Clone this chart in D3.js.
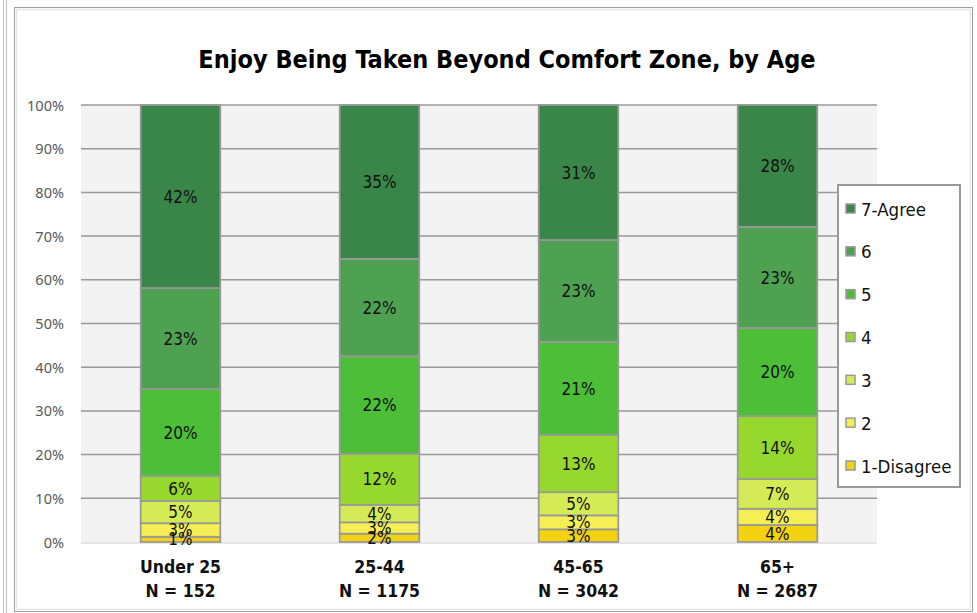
<!DOCTYPE html>
<html><head><meta charset="utf-8">
<script src="https://cdn.jsdelivr.net/npm/d3@7"></script>
<style>
html,body{margin:0;padding:0;background:#fff;}
svg{display:block;}
</style></head>
<body>
<script>
const title = "Enjoy Being Taken Beyond Comfort Zone, by Age";
const categories = ["Under 25", "25-44", "45-65", "65+"];
const sampleSizes = ["N = 152", "N = 1175", "N = 3042", "N = 2687"];
const seriesNames = ["1-Disagree", "2", "3", "4", "5", "6", "7-Agree"];
const s1 = [1.2, 1.9, 2.9, 3.9];
const s2 = [3.1, 2.6, 3.2, 3.7];
const s3 = [5.1, 4.0, 5.3, 6.8];
const s4 = [5.7, 11.7, 13.1, 14.4];
const s5 = [19.9, 22.3, 21.3, 20.2];
const s6 = [23.1, 22.3, 23.3, 23.1];
const s7 = [41.9, 35.2, 30.9, 27.9];
const yTicks = [0, 10, 20, 30, 40, 50, 60, 70, 80, 90, 100];
const colors = ["#f4d20f", "#f5ef55", "#d5eb55", "#97d82f", "#4cbe38", "#4fa152", "#3a8648"];

const W = 977, H = 613;
const plot = {x0: 81, x1: 877, y0: 105, y1: 542};
const FONT = "'DejaVu Sans Condensed', 'DejaVu Sans', sans-serif";

const svg = d3.select("body").append("svg").attr("width", W).attr("height", H);

// frames
svg.append("rect").attr("x", 3.5).attr("y", -5).attr("width", 3).attr("height", H + 10)
  .attr("fill", "none").attr("stroke", "#c0c0c0").attr("stroke-width", 1);
svg.append("rect").attr("x", 14.5).attr("y", 7.5).attr("width", 958).attr("height", 604)
  .attr("fill", "#fff").attr("stroke", "#a0a0a0").attr("stroke-width", 1);
svg.append("rect").attr("x", 16.5).attr("y", 9.5).attr("width", 954).attr("height", 600)
  .attr("fill", "none").attr("stroke", "#e6e6e6").attr("stroke-width", 1.5);

const rows = categories.map((c, i) => ({
  cat: c,
  "1-Disagree": s1[i], "2": s2[i], "3": s3[i], "4": s4[i], "5": s5[i], "6": s6[i], "7-Agree": s7[i]
}));
const stacked = d3.stack().keys(seriesNames)(rows);

const x = d3.scaleBand().domain(categories).range([plot.x0, plot.x1]).paddingInner(0.6).paddingOuter(0.3);
const y = d3.scaleLinear().domain([0, 100]).range([plot.y1, plot.y0]);
const color = d3.scaleOrdinal().domain(seriesNames).range(colors);

// plot background
svg.append("rect").attr("x", plot.x0).attr("y", plot.y0).attr("width", plot.x1 - plot.x0)
  .attr("height", plot.y1 - plot.y0).attr("fill", "#f3f3f3");

// gridlines
svg.append("g").selectAll("line").data(yTicks.filter(t => t > 0)).join("line")
  .attr("x1", plot.x0).attr("x2", plot.x1)
  .attr("y1", d => y(d)).attr("y2", d => y(d))
  .attr("stroke", "#9a9a9a").attr("stroke-width", 1.5);
svg.append("line").attr("x1", plot.x0).attr("x2", plot.x1).attr("y1", y(0) + 1).attr("y2", y(0) + 1)
  .attr("stroke", "#dcdcdc").attr("stroke-width", 1.5);

// y axis labels
const yAxis = d3.axisLeft(y).tickValues(yTicks).tickFormat(d => d + "%").tickSize(0).tickPadding(0);
const ya = svg.append("g").attr("transform", `translate(${plot.x0 - 17},0)`).call(yAxis);
ya.select(".domain").remove();
ya.selectAll("text").attr("font-family", "'Noto Sans', sans-serif").attr("font-size", 14.5)
  .attr("fill", "#595959").attr("dy", "0.35em");

// bars
const g = svg.append("g");
stacked.forEach(layer => {
  const lg = g.append("g");
  lg.selectAll("rect").data(layer).join("rect")
    .attr("x", d => x(d.data.cat))
    .attr("y", d => y(d[1]))
    .attr("width", x.bandwidth())
    .attr("height", d => y(d[0]) - y(d[1]))
    .attr("fill", color(layer.key))
    .attr("stroke", "#999").attr("stroke-width", 1.75);
});
stacked.forEach(layer => {
  g.append("g").selectAll("text").data(layer).join("text")
    .attr("x", d => x(d.data.cat) + x.bandwidth() / 2)
    .attr("y", d => (y(d[0]) + y(d[1])) / 2)
    .attr("dy", "0.36em")
    .attr("text-anchor", "middle")
    .attr("font-family", FONT).attr("font-size", 17).attr("fill", "#111")
    .text(d => Math.round(d[1] - d[0]) + "%");
});

// x labels
const xl = svg.append("g");
categories.forEach((c, i) => {
  const cx = x(c) + x.bandwidth() / 2;
  xl.append("text").attr("x", cx).attr("y", 573).attr("text-anchor", "middle")
    .attr("font-family", FONT).attr("font-weight", "bold").attr("font-size", 17.5).attr("fill", "#111").text(c);
  xl.append("text").attr("x", cx).attr("y", 597).attr("text-anchor", "middle")
    .attr("font-family", FONT).attr("font-weight", "bold").attr("font-size", 17.5).attr("fill", "#111").text(sampleSizes[i]);
});

// title
svg.append("text").attr("x", 507).attr("y", 68).attr("text-anchor", "middle")
  .attr("font-family", FONT).attr("font-weight", "bold").attr("font-size", 25).attr("fill", "#000")
  .text(title);

// legend
const lg = svg.append("g");
lg.append("rect").attr("x", 838).attr("y", 185).attr("width", 122).attr("height", 302)
  .attr("fill", "#fff").attr("stroke", "#999").attr("stroke-width", 2);
const legendOrder = seriesNames.slice().reverse();
const ly = d3.scalePoint().domain(legendOrder).range([209, 466]);
legendOrder.forEach(k => {
  lg.append("rect").attr("x", 846).attr("y", ly(k) - 5).attr("width", 9).attr("height", 9)
    .attr("fill", color(k)).attr("stroke", "#999").attr("stroke-width", 1.5);
  lg.append("text").attr("x", 861).attr("y", ly(k)).attr("dy", "0.36em")
    .attr("font-family", FONT).attr("font-size", 18.5).attr("fill", "#111").text(k);
});
</script>
</body></html>
